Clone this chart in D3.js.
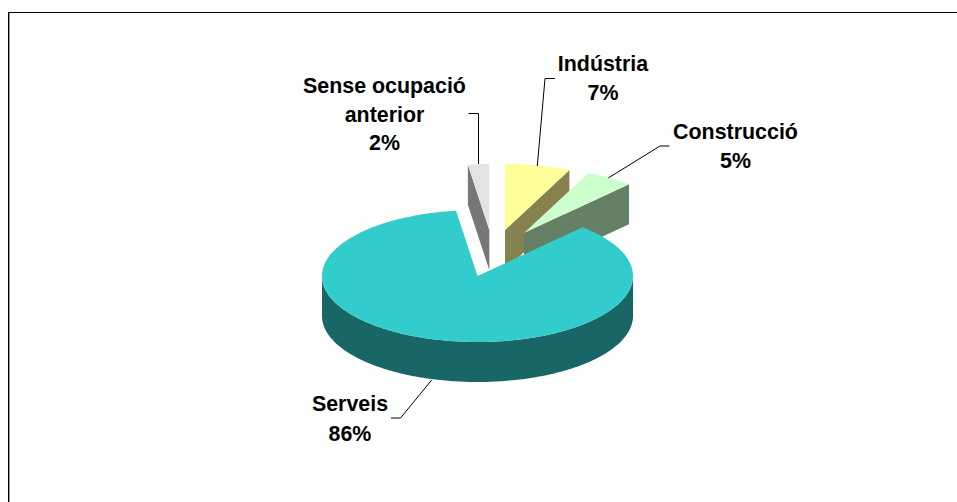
<!DOCTYPE html>
<html>
<head>
<meta charset="utf-8">
<script src="https://cdn.jsdelivr.net/npm/d3@7"></script>
<style>
html,body{margin:0;padding:0;background:#fff;overflow:hidden}
svg{display:block}
text{font-family:"Liberation Sans",Arial,sans-serif;font-weight:700;font-size:21.4px;fill:#000;text-anchor:middle}
</style>
</head>
<body>
<div id="chart"></div>
<script>
// ---- data ----
const categories = ["Indústria", "Construcció", "Serveis", "Sense ocupació anterior"];
const shares = [6.8, 5.0, 86.0, 2.2];
const labelLines = [["Indústria"], ["Construcció"], ["Serveis"], ["Sense ocupació", "anterior"]];

// ---- styles and layout ----
const W = 957, H = 502;
const topColors = ["#FFFF99", "#CCFFCC", "#33CCCC", "#E3E3E3"];
const wallColors = ["#85824F", "#668066", "#196666", "#777777"];
const center = [477.5, 276];
const radiusX = 155.5, radiusY = 66, depth = 40;
const explode = [[27.5, -46], [46.5, -43], [0, 0], [11.8, -46]];
const labelPos = [[603, 71], [735.5, 139], [350, 410.5], [384.5, 93]];
const lineStep = [29, 29, 30, 28.5];
const leaders = [
  [[555, 78.5], [545, 78.5], [537.3, 166]],
  [[669.5, 146], [660, 146], [608.3, 178]],
  [[431.7, 380], [400.5, 418], [391, 418]],
  [[468.5, 113.5], [478.5, 113.5], [478.5, 164]]
];
const paintOrder = [3, 0, 1, 2];

const svg = d3.select("#chart").append("svg").attr("width", W).attr("height", H);

// chart frame: only the top and left edges fall inside the picture
svg.append("rect").attr("x", 9).attr("y", 13).attr("width", 1).attr("height", H).attr("fill", "#999");
svg.append("line").attr("x1", 8.5).attr("x2", 8.5).attr("y1", 12).attr("y2", H).attr("stroke", "#000");
svg.append("line").attr("x1", 8).attr("x2", W).attr("y1", 12.5).attr("y2", 12.5).attr("stroke", "#000");

const pie = d3.pie().sort(null).value(d => d).startAngle(0).endAngle(2 * Math.PI);
const arcs = pie(shares);

const sx = d3.scaleLinear().domain([-1, 1]).range([-radiusX, radiusX]);
const sy = d3.scaleLinear().domain([-1, 1]).range([-radiusY, radiusY]);
const rim = (a, ox, oy, dz = 0) => [center[0] + ox + sx(Math.sin(a)), center[1] + oy - sy(Math.cos(a)) + dz];
const apex = (ox, oy, dz = 0) => [center[0] + ox, center[1] + oy + dz];
const closed = d3.line().curve(d3.curveLinearClosed);

function sweep(a0, a1, ox, oy, dz) {
  const n = Math.max(2, Math.ceil((a1 - a0) * 60));
  return d3.range(n + 1).map(k => rim(a0 + (a1 - a0) * k / n, ox, oy, dz));
}

paintOrder.forEach(i => {
  const d = arcs[i], [ox, oy] = explode[i];
  const g = svg.append("g").attr("class", "slice");
  const isMain = i === 2;

  if (isMain) {
    // front rim wall, lower half of the ellipse
    const a0 = Math.PI / 2, a1 = 3 * Math.PI / 2;
    const pts = sweep(a0, a1, ox, oy, 0).concat(sweep(a0, a1, ox, oy, depth).reverse());
    g.append("path").attr("d", closed(pts)).attr("fill", wallColors[i]);
  } else if (d.endAngle < Math.PI && d.startAngle < Math.PI) {
    // cut face on the right-hand radius
    const pts = [apex(ox, oy), rim(d.endAngle, ox, oy), rim(d.endAngle, ox, oy, depth), apex(ox, oy, depth)];
    g.append("path").attr("d", closed(pts)).attr("fill", wallColors[i]);
  } else {
    // cut face on the left-hand radius
    const pts = [apex(ox, oy), rim(d.startAngle, ox, oy), rim(d.startAngle, ox, oy, depth), apex(ox, oy, depth)];
    g.append("path").attr("d", closed(pts)).attr("fill", wallColors[i]);
  }

  const face = [apex(ox, oy)].concat(sweep(d.startAngle, d.endAngle, ox, oy, 0));
  g.append("path").attr("d", closed(face)).attr("fill", topColors[i]);
});

// leader lines
const open = d3.line();
leaders.forEach(pts => {
  svg.append("path").attr("d", open(pts)).attr("fill", "none").attr("stroke", "#000").attr("stroke-width", 1);
});

// labels
categories.forEach((c, i) => {
  const lines = labelLines[i].concat([Math.round(shares[i]) + "%"]);
  const t = svg.append("text").attr("class", "label");
  lines.forEach((s, k) => {
    t.append("tspan").attr("x", labelPos[i][0]).attr("y", labelPos[i][1] + k * lineStep[i]).text(s);
  });
});
</script>
</body>
</html>
